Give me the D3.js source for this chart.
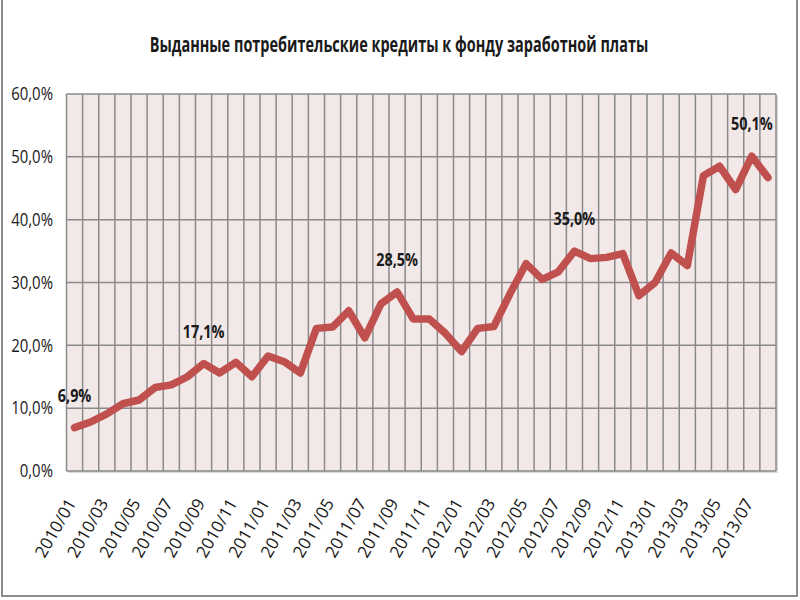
<!DOCTYPE html>
<html>
<head>
<meta charset="utf-8">
<script src="https://cdn.jsdelivr.net/npm/d3@7"></script>
<style>
  body { margin: 0; background: #fff; }
  text { font-family: "Open Sans", "DejaVu Sans", sans-serif; fill: #1a1a1a; }
</style>
</head>
<body>
<script>
// Chart data
var title = "Выданные потребительские кредиты к фонду заработной платы";
var months = ["2010/01","2010/02","2010/03","2010/04","2010/05","2010/06","2010/07","2010/08","2010/09","2010/10","2010/11","2010/12",
              "2011/01","2011/02","2011/03","2011/04","2011/05","2011/06","2011/07","2011/08","2011/09","2011/10","2011/11","2011/12",
              "2012/01","2012/02","2012/03","2012/04","2012/05","2012/06","2012/07","2012/08","2012/09","2012/10","2012/11","2012/12",
              "2013/01","2013/02","2013/03","2013/04","2013/05","2013/06","2013/07","2013/08"];
var values = [6.9, 7.8, 9.1, 10.7, 11.3, 13.3, 13.7, 15.0, 17.1, 15.6, 17.3, 15.0,
              18.3, 17.4, 15.6, 22.7, 22.9, 25.5, 21.2, 26.6, 28.5, 24.2, 24.2, 21.9,
              19.0, 22.7, 23.0, 28.2, 33.0, 30.5, 31.7, 35.0, 33.8, 34.0, 34.6, 27.9,
              30.0, 34.7, 32.7, 47.0, 48.5, 44.8, 50.1, 46.7];
// Points that carry a value label
var labelled = ["2010/01", "2010/09", "2011/09", "2012/08", "2013/07"];
var yTicks = [0, 10, 20, 30, 40, 50, 60];

var width = 800,
    height = 600;

var ru = d3.formatLocale({decimal: ",", thousands: " ", grouping: [3], currency: ["", ""]});
var pct = function(v) { return ru.format(".1f")(v) + "%"; };

var svg = d3.select("body").append("svg")
    .attr("width", width)
    .attr("height", height);

// Outer chart border (top edge sits off the picture, as in the original)
svg.append("rect")
    .attr("x", 2).attr("y", -3)
    .attr("width", 795).attr("height", 599)
    .attr("fill", "#fff")
    .attr("stroke", "#8c8c8c")
    .attr("stroke-width", 2);

// Scales
var x = d3.scaleBand()
    .domain(months)
    .range([66.5, 776]);
var y = d3.scaleLinear()
    .domain([0, 60])
    .range([471, 94]);

var plotW = x.range()[1] - x.range()[0],
    plotH = y(0) - y(60);

// Plot area (with a faint shadow like the original)
svg.append("rect")
    .attr("x", x.range()[0] + 2).attr("y", y(60) + 2)
    .attr("width", plotW).attr("height", plotH)
    .attr("fill", "#d9d9d9");
svg.append("rect")
    .attr("x", x.range()[0]).attr("y", y(60))
    .attr("width", plotW).attr("height", plotH)
    .attr("fill", "#f3e8e8");

// Grid
var grid = svg.append("g")
    .attr("stroke", "#8a8a8a")
    .attr("stroke-width", 1.5);
grid.selectAll(".v")
    .data(months.concat(["end"]))
  .enter().append("line")
    .attr("x1", function(d, i) { return x.range()[0] + i * x.bandwidth(); })
    .attr("x2", function(d, i) { return x.range()[0] + i * x.bandwidth(); })
    .attr("y1", y(0)).attr("y2", y(60));
grid.selectAll(".h")
    .data(yTicks)
  .enter().append("line")
    .attr("x1", x.range()[0]).attr("x2", x.range()[1])
    .attr("y1", function(d) { return y(d); })
    .attr("y2", function(d) { return y(d); });

// Y axis labels
svg.append("g").selectAll("text")
    .data(yTicks)
  .enter().append("text")
    .attr("transform", function(d) { return "translate(53," + y(d) + ") scale(0.83,1)"; })
    .attr("text-anchor", "end")
    .attr("dy", "0.35em")
    .style("font-size", "18px")
    .text(pct);

// X axis labels, every other month
svg.append("g").selectAll("text")
    .data(months.filter(function(d, i) { return i % 2 === 0; }))
  .enter().append("text")
    .attr("transform", function(d) {
        return "translate(" + (x(d) + x.bandwidth() / 2 - 3) + ",500) rotate(-60)";
    })
    .attr("text-anchor", "end")
    .attr("dy", "0.35em")
    .style("font-size", "17px")
    .text(function(d) { return d; });

// Line
var line = d3.line()
    .x(function(d, i) { return x(months[i]) + x.bandwidth() / 2; })
    .y(function(d) { return y(d); });

svg.append("path")
    .datum(values)
    .attr("d", line)
    .attr("fill", "none")
    .attr("stroke", "#c0504d")
    .attr("stroke-width", 7.5)
    .attr("stroke-linejoin", "round")
    .attr("stroke-linecap", "round");

// Value labels
svg.append("g").selectAll("text")
    .data(labelled)
  .enter().append("text")
    .attr("transform", function(d) {
        var i = months.indexOf(d);
        return "translate(" + (x(d) + x.bandwidth() / 2) + "," + (y(values[i]) - 26) + ") scale(0.8,1)";
    })
    .attr("text-anchor", "middle")
    .style("font-size", "18px")
    .style("font-weight", "bold")
    .text(function(d) { return pct(values[months.indexOf(d)]); });

// Title
svg.append("text")
    .attr("transform", "translate(399,52) scale(0.69,1)")
    .attr("text-anchor", "middle")
    .style("font-size", "21px")
    .style("font-weight", "bold")
    .text(title);
</script>
</body>
</html>
